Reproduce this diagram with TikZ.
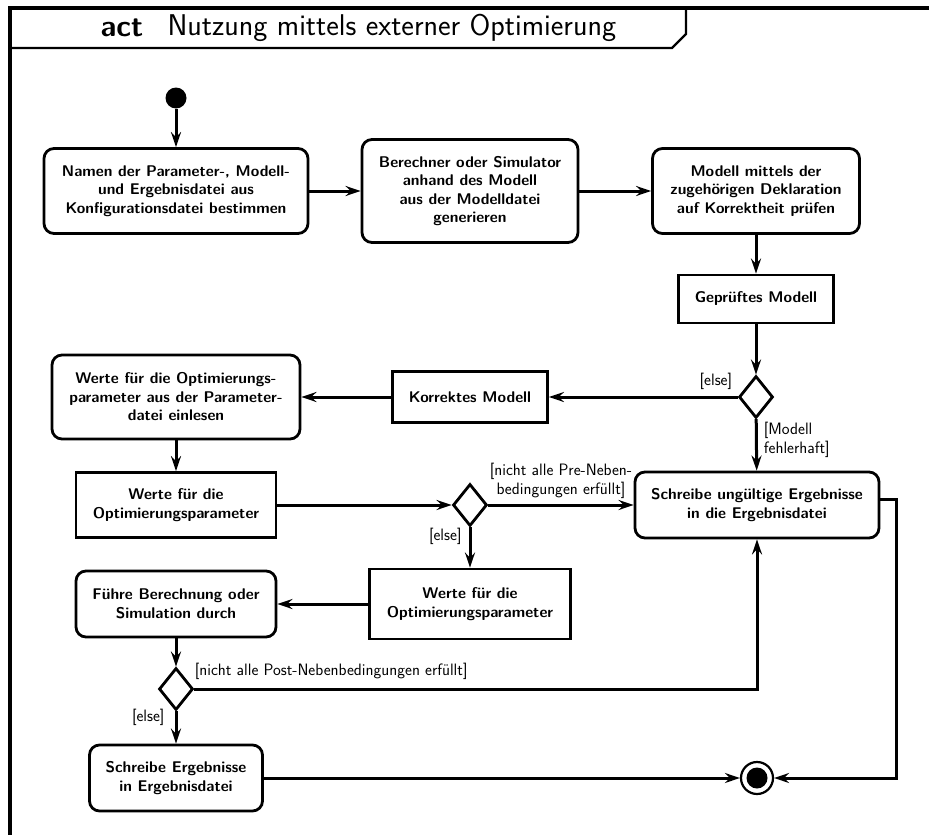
\documentclass[tikz,border=0pt]{standalone}
\usepackage{fontspec}
\usetikzlibrary{shapes.geometric, arrows.meta, positioning}

\begin{document}
\begin{tikzpicture}[
		x=1pt, y=-1pt,
		action/.style={rectangle, draw, rounded corners=10pt, line width=2.8pt, align=center, font=\sffamily\bfseries\fontsize{15.5}{18.5}\selectfont},
		object/.style={rectangle, draw, line width=2.8pt, align=center, font=\sffamily\bfseries\fontsize{15.5}{18.5}\selectfont},
		decision/.style={diamond, draw, line width=2.8pt, minimum width=34pt, minimum height=42pt, inner sep=0pt},
		initial/.style={circle, fill, minimum size=21pt, inner sep=0pt},
		final/.style={circle, draw, line width=2.2pt, minimum size=32pt, inner sep=0pt, path picture={\fill (path picture bounding box.center) circle (10.5pt);}},
		guard/.style={inner sep=2pt, align=left, font=\sffamily\fontsize{16.5}{19}\selectfont},
		flow/.style={draw, line width=3pt, -{Stealth[length=15pt, width=10pt, inset=5pt]}},
		]
		\useasboundingbox (0,0) rectangle (929,835);
		
		% Frame and header
		\draw[line width=3.5pt] (10,835) -- (10,8) -- (929,8);
		\draw[line width=2.2pt] (10,48) -- (672,48) -- (686,34) -- (686,8);
		\node[font=\sffamily\bfseries\fontsize{30}{32}\selectfont] (act) at (122,28) {act};
		\node[anchor=west, font=\sffamily\fontsize{30}{32}\selectfont] (titel) at (164,28) {Nutzung mittels externer Optimierung};
		
		% First row
		\node[initial] (start) at (176,98) {};
		\node[action, minimum width=264pt, minimum height=85pt] (namen) at (176,191) {Namen der Parameter-, Modell-\\und Ergebnisdatei aus\\Konfigurationsdatei bestimmen};
		\node[action, minimum width=216pt, minimum height=103pt] (generieren) at (470,191) {Berechner oder Simulator\\anhand des Modell\\aus der Modelldatei\\generieren};
		\node[action, minimum width=207pt, minimum height=85pt] (pruefen) at (756,191) {Modell mittels der\\zugehörigen Deklaration\\auf Korrektheit prüfen};
		\node[object, minimum width=155pt, minimum height=48pt] (geprueft) at (756,299) {Geprüftes Modell};
		
		% Model check
		\node[decision] (d1) at (756,397) {};
		\node[object, minimum width=155pt, minimum height=51pt] (korrekt) at (470,397) {Korrektes Modell};
		\node[action, minimum width=248pt, minimum height=84pt] (einlesen) at (176,397) {Werte für die Optimierungs-\\parameter aus der Parameter-\\datei einlesen};
		
		% Pre conditions
		\node[object, minimum width=200pt, minimum height=65pt] (werte1) at (176,505) {Werte für die\\Optimierungsparameter};
		\node[decision] (d2) at (470,505) {};
		\node[action, minimum width=244pt, minimum height=66pt] (ungueltig) at (757,505) {Schreibe ungültige Ergebnisse\\in die Ergebnisdatei};
		\node[object, minimum width=201pt, minimum height=70pt] (werte2) at (470,604) {Werte für die\\Optimierungsparameter};
		\node[action, minimum width=200pt, minimum height=66pt] (fuehre) at (176,604) {Führe Berechnung oder\\Simulation durch};
		
		% Post conditions
		\node[decision] (d3) at (176,689) {};
		\node[action, minimum width=173pt, minimum height=66pt] (schreibe) at (176,778) {Schreibe Ergebnisse\\in Ergebnisdatei};
		\node[final] (end) at (757,778) {};
		
		% Arrows
		\draw[flow] (start) -- (namen);
		\draw[flow] (namen) -- (generieren);
		\draw[flow] (generieren) -- (pruefen);
		\draw[flow] (pruefen) -- (geprueft);
		\draw[flow] (geprueft) -- (d1);
		\draw[flow] (d1) -- (korrekt) node[guard, pos=0, anchor=south east, xshift=-2pt, yshift=4pt] {[else]};
		\draw[flow] (korrekt) -- (einlesen);
		\draw[flow] (d1) -- (ungueltig) node[guard, pos=0.4, right=4pt] {[Modell\\ fehlerhaft]};
		\draw[flow] (einlesen) -- (werte1);
		\draw[flow] (werte1) -- (d2);
		\draw[flow] (d2) -- node[guard, above, align=center, yshift=3pt] {[nicht alle Pre-Neben-\\bedingungen erfüllt]} (ungueltig);
		\draw[flow] (d2) -- (werte2) node[guard, pos=0.22, left=5pt] {[else]};
		\draw[flow] (werte2) -- (fuehre);
		\draw[flow] (fuehre) -- (d3);
		\draw[flow] (d3) -- node[guard, pos=0, anchor=south west, xshift=-3pt, yshift=6pt] {[nicht alle Post-Nebenbedingungen erfüllt]} (d3 -| ungueltig) -- (ungueltig);
		\draw[flow] (d3) -- (schreibe) node[guard, pos=0.2, left=8pt] {[else]};
		\draw[flow] (schreibe) -- (end);
		\draw[flow] ([yshift=6pt]ungueltig.east) -- ++(16,0) |- (end);
		
	\end{tikzpicture}
\end{document}
